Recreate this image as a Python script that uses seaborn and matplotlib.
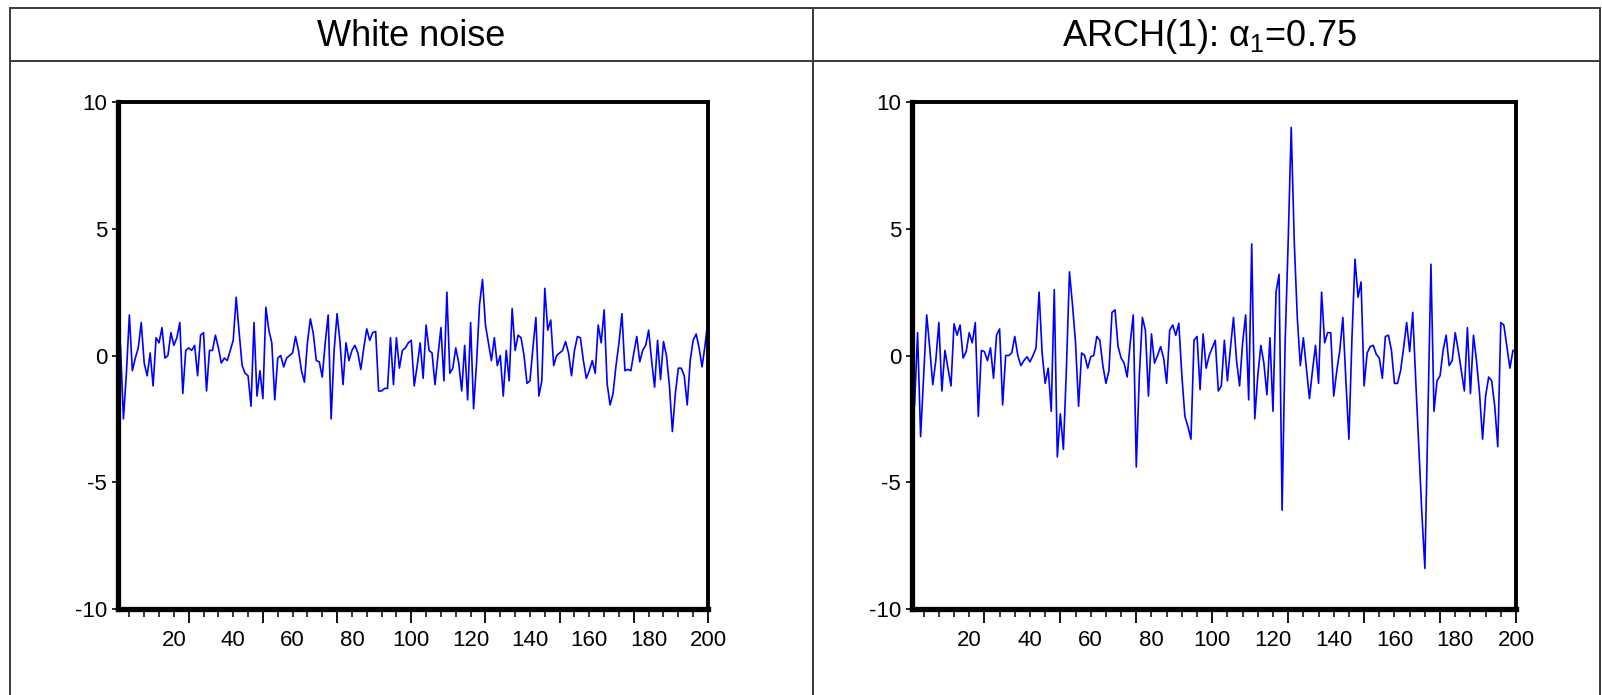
import numpy as np
import matplotlib
matplotlib.use("Agg")
import matplotlib.pyplot as plt
import seaborn as sns
from matplotlib.lines import Line2D
from matplotlib.ticker import FixedLocator

# ---------------- data ----------------
obs = np.arange(1, 201)

white_noise = [
    -1.9, 0.4, -2.5, -0.7, 1.6, -0.6, -0.1, 0.3, 1.3, -0.3,
    -0.8, 0.1, -1.2, 0.7, 0.5, 1.1, -0.1, 0.0, 0.9, 0.4,
    0.7, 1.3, -1.5, 0.2, 0.3, 0.2, 0.4, -0.8, 0.8, 0.9,
    -1.4, 0.2, 0.2, 0.8, 0.3, -0.3, -0.1, -0.2, 0.2, 0.6,
    2.3, 0.9, -0.4, -0.7, -0.8, -2.0, 1.3, -1.6, -0.6, -1.7,
    1.9, 1.0, 0.5, -1.75, -0.1, 0.0, -0.45, -0.1, 0.0, 0.1,
    0.75, 0.2, -0.6, -1.05, 0.5, 1.45, 0.85, -0.2, -0.25, -0.85,
    0.5, 1.6, -2.5, 0.2, 1.65, 0.5, -1.15, 0.5, -0.2, 0.2,
    0.4, 0.1, -0.55, 0.3, 1.05, 0.6, 0.9, 0.95, -1.4, -1.4,
    -1.3, -1.3, 0.7, -1.15, 0.7, -0.5, 0.2, 0.3, 0.5, 0.6,
    -1.2, -0.4, 0.5, -0.9, 1.2, 0.2, 0.1, -1.15, 0.0, 1.1,
    -1.0, 2.5, -0.7, -0.5, 0.3, -0.3, -1.4, 0.4, -1.75, 1.3,
    -2.1, -0.3, 2.0, 3.0, 1.2, 0.5, -0.2, 0.7, -0.4, 0.0,
    -1.6, 0.2, -1.0, 1.85, 0.2, 0.8, 0.7, 0.0, -1.1, -1.0,
    0.3, 1.5, -1.6, -1.0, 2.65, 1.0, 1.4, -0.4, 0.0, 0.1,
    0.2, 0.55, 0.1, -0.8, 0.2, 0.75, 0.7, -0.2, -0.9, -0.6,
    -0.2, -0.7, 1.2, 0.5, 1.8, -1.1, -1.95, -1.5, -0.4, 0.5,
    1.65, -0.6, -0.55, -0.6, 0.1, 0.75, -0.25, 0.2, 0.4, 1.0,
    -0.2, -1.25, 0.6, -0.95, 0.55, 0.0, -1.2, -3.0, -1.5, -0.5,
    -0.5, -0.8, -1.95, -0.2, 0.6, 0.85, 0.3, -0.45, 0.4, 1.4,
]

arch1 = [
    -1.5, -2.0, 0.9, -3.2, -0.8, 1.6, 0.3, -1.15, -0.2, 1.3,
    -1.4, 0.2, -0.5, -1.2, 1.25, 0.8, 1.2, -0.1, 0.15, 0.9,
    0.5, 1.3, -2.4, 0.2, 0.15, -0.2, 0.3, -0.9, 0.8, 1.05,
    -1.95, 0.0, 0.0, 0.1, 0.75, 0.0, -0.4, -0.2, -0.05, -0.25,
    0.0, 0.3, 2.5, 0.1, -1.1, -0.5, -2.2, 2.6, -4.0, -2.3,
    -3.7, -0.5, 3.3, 2.0, 0.5, -2.0, 0.1, 0.0, -0.5, -0.05,
    0.0, 0.75, 0.6, -0.4, -1.1, -0.6, 1.7, 1.8, 0.35, -0.1,
    -0.3, -0.85, 0.5, 1.6, -4.4, -0.8, 1.5, 1.0, -1.6, 0.85,
    -0.3, 0.0, 0.35, -0.1, -1.1, 1.0, 1.2, 0.8, 1.27, -0.8,
    -2.4, -2.8, -3.3, 0.6, 0.75, -1.35, 0.85, -0.5, 0.0, 0.3,
    0.6, -1.4, -1.2, 0.6, -1.0, 0.3, 1.5, -0.2, -1.2, 0.5,
    1.6, -1.75, 4.4, -2.5, -0.8, 0.4, -0.3, -1.55, 0.7, -2.2,
    2.5, 3.2, -6.1, 0.5, 4.5, 9.0, 4.5, 1.5, -0.4, 0.7,
    -0.5, -1.7, -0.6, 0.4, -1.1, 2.5, 0.5, 0.9, 0.9, -1.6,
    -0.6, 0.2, 1.5, -1.0, -3.3, 0.7, 3.8, 2.3, 2.9, -1.2,
    0.1, 0.35, 0.4, 0.05, -0.1, -0.9, 0.75, 0.8, 0.2, -1.1,
    -1.1, -0.6, 0.3, 1.3, 0.15, 1.7, -1.0, -3.6, -6.2, -8.4,
    -2.5, 3.6, -2.2, -1.0, -0.8, 0.2, 0.8, -0.4, -0.2, 0.9,
    0.2, -0.6, -1.4, 1.1, -1.5, 0.8, -0.2, -1.5, -3.3, -1.6,
    -0.85, -1.0, -2.0, -3.6, 1.3, 1.2, 0.35, -0.5, 0.2, 0.2,
]

titles = ["White noise", "ARCH(1): \u03b1$_\\mathregular{1}$=0.75"]
y_ticks = [-10, -5, 0, 5, 10]
y_tick_labels = ["-10", "-5", "0", "5", "10"]
x_labels = list(range(20, 201, 20))

# ---------------- style ----------------
sns.set_style("white")
plt.rcParams["font.family"] = ["Liberation Sans", "DejaVu Sans"]
plt.rcParams["axes.unicode_minus"] = False
plt.rcParams["mathtext.fontset"] = "custom"
plt.rcParams["mathtext.rm"] = "Liberation Sans"

W, H = 1602, 695
fig = plt.figure(figsize=(W / 100, H / 100), dpi=100)


def fx(px):
    return px / W


def fy(py):
    return 1 - py / H


frame_kw = dict(color="#3a3a3a", lw=1.4, transform=fig.transFigure)
fig.add_artist(Line2D([fx(10), fx(1600)], [fy(8), fy(8)], **frame_kw))
fig.add_artist(Line2D([fx(10), fx(1600)], [fy(61), fy(61)], **frame_kw))
for xp in (10, 813, 1600):
    fig.add_artist(Line2D([fx(xp), fx(xp)], [fy(8), 0], **frame_kw))

panels = [
    (white_noise, 117.5, 708.0, 411.5),
    (arch1, 911.5, 1516.0, 1209.0),
]

for (series, x0, x1, tc), title in zip(panels, titles):
    ax = fig.add_axes([fx(x0), fy(609), (x1 - x0) / W, (609 - 102) / H])
    sns.lineplot(x=obs, y=series, ax=ax, color="#0000FF", linewidth=1.2)
    ax.set_xlim(1, 200)
    ax.set_ylim(-10, 10)
    ax.set_xlabel("")
    ax.set_ylabel("")
    ax.set_yticks(y_ticks)
    ax.set_yticklabels(y_tick_labels, fontsize=16)
    ax.xaxis.set_major_locator(FixedLocator(list(range(25, 201, 25))))
    ax.xaxis.set_minor_locator(FixedLocator([v for v in range(5, 201, 5) if v % 25]))
    ax.tick_params(axis="x", which="major", bottom=True, length=10, width=1.3,
                   color="black", labelbottom=False, direction="out")
    ax.tick_params(axis="x", which="minor", bottom=True, length=5.5, width=1.1,
                   color="black", direction="out")
    ax.tick_params(axis="y", left=True, length=4.5, width=1.2, color="black",
                   pad=3, labelcolor="black")
    for side, sp in ax.spines.items():
        sp.set_visible(True)
        sp.set_color("black")
        sp.set_linewidth(3.8 if side in ("left", "bottom") else 2.8)
    sec = ax.secondary_xaxis("bottom")
    sec.set_xticks(x_labels)
    sec.set_xticklabels([str(v) for v in x_labels], fontsize=16)
    sec.tick_params(length=0, pad=15, labelcolor="black")
    sec.spines["bottom"].set_visible(False)
    fig.text(fx(tc), fy(46), title, ha="center", va="baseline", fontsize=26,
             color="black")

fig.savefig("out.png", dpi=100)
